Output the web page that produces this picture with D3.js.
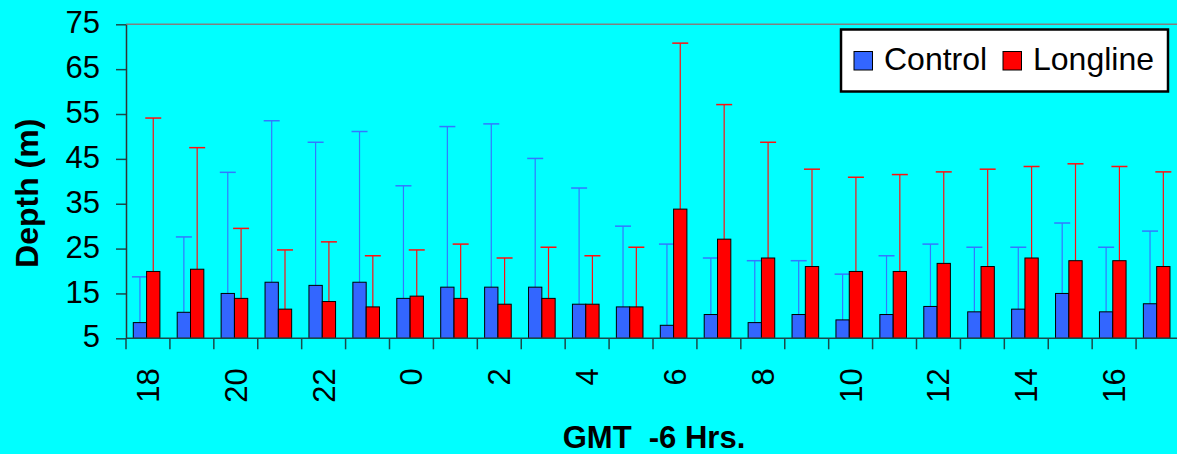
<!DOCTYPE html>
<html><head><meta charset="utf-8">
<script src="https://cdn.jsdelivr.net/npm/d3@7"></script>
<style>
html,body{margin:0;padding:0;background:#00FFFF;}
svg{display:block;font-family:Arial,"Liberation Sans",sans-serif;}
</style></head>
<body>
<script>
const categories = ["18","19","20","21","22","23","0","1","2","3","4","5","6","7","8","9","10","11","12","13","14","15","16","17"];
const controlMean = [8.5,10.8,15.0,17.5,16.8,17.5,13.9,16.4,16.4,16.4,12.6,12.0,7.9,10.3,8.5,10.3,9.1,10.3,12.1,10.9,11.5,15.0,10.9,12.7];
const controlUpper = [18.7,27.6,42.0,53.5,48.7,51.1,39.0,52.2,52.8,45.1,38.5,30.0,26.0,22.9,22.3,22.3,19.3,23.4,26.0,25.3,25.3,30.7,25.3,28.9];
const longlineMean = [19.9,20.4,13.9,11.5,13.2,12.0,14.4,13.9,12.6,13.9,12.6,12.0,33.8,27.1,22.9,21.0,19.9,19.9,21.7,21.0,22.9,22.3,22.3,21.0];
const longlineUpper = [54.1,47.5,29.5,24.7,26.5,23.4,24.7,26.0,22.9,25.3,23.4,25.3,70.8,57.1,48.7,42.7,40.9,41.5,42.1,42.7,43.3,43.9,43.3,42.1];
const seriesNames = ["Control","Longline"];
const yTicks = [5,15,25,35,45,55,65,75];
const xLabelCats = ["18","20","22","0","2","4","6","8","10","12","14","16"];

(function(){
const W = 1177, H = 454;
const colors = {Control:"#3366FF", Longline:"#FF0000"};
const errColors = {Control:"#3377FF", Longline:"#FF1010"};

const svg = d3.select("body").append("svg").attr("width",W).attr("height",H);
svg.append("rect").attr("width",W).attr("height",H).attr("fill","#00FFFF");

const pLeft = 126, pRight = 1180, pTop = 24.3, pBottom = 338.3;
const x0 = d3.scaleBand().domain(categories).range([pLeft,pRight]).paddingInner(0).paddingOuter(0);
const step = x0.step();
const barW = step*0.303;
const groupOff = step*0.166;
const x1 = d3.scaleBand().domain(seriesNames).range([groupOff, groupOff+2*barW]);
const y = d3.scaleLinear().domain([5,75]).range([pBottom,pTop]);

svg.append("line").attr("x1",pLeft).attr("x2",W).attr("y1",y(75)).attr("y2",y(75))
  .attr("stroke","#808080").attr("stroke-width",1.5);

const data = categories.map((c,i)=>({cat:c, vals:[
  {s:"Control", m:controlMean[i], u:controlUpper[i]},
  {s:"Longline", m:longlineMean[i], u:longlineUpper[i]}]}));

const g = svg.append("g");
const grp = g.selectAll("g.cat").data(data).join("g").attr("transform",d=>`translate(${x0(d.cat)},0)`);

grp.selectAll("line.err").data(d=>d.vals).join("line").attr("class","err")
  .attr("x1",d=>x1(d.s)+barW/2).attr("x2",d=>x1(d.s)+barW/2)
  .attr("y1",d=>y(d.m)).attr("y2",d=>y(d.u))
  .attr("stroke",d=>errColors[d.s]).attr("stroke-width",1.2);
grp.selectAll("line.cap").data(d=>d.vals).join("line").attr("class","cap")
  .attr("x1",d=>x1(d.s)+barW/2-8).attr("x2",d=>x1(d.s)+barW/2+8)
  .attr("y1",d=>y(d.u)).attr("y2",d=>y(d.u))
  .attr("stroke",d=>errColors[d.s]).attr("stroke-width",1.5);

grp.selectAll("rect.bar").data(d=>d.vals).join("rect").attr("class","bar")
  .attr("x",d=>x1(d.s)).attr("width",barW)
  .attr("y",d=>y(d.m)).attr("height",d=>y(5)-y(d.m))
  .attr("fill",d=>colors[d.s]).attr("stroke","#000").attr("stroke-width",1);

const yAxis = d3.axisLeft(y).tickValues(yTicks).tickSize(10).tickPadding(16).tickSizeOuter(0);
const ya = svg.append("g").attr("transform",`translate(${pLeft},0)`).call(yAxis);
ya.select(".domain").attr("stroke","#333").attr("stroke-width",1.5);
ya.selectAll(".tick line").attr("stroke","#1a4a4a").attr("stroke-width",1.5);
ya.selectAll(".tick text").attr("font-size",31).attr("fill","#000").attr("dy","0.28em")
  .attr("font-family","Arial, 'Liberation Sans', sans-serif");

svg.append("line").attr("x1",pLeft).attr("x2",W).attr("y1",pBottom).attr("y2",pBottom)
  .attr("stroke","#1a4a4a").attr("stroke-width",1.5);
svg.selectAll("line.xt").data(categories).join("line").attr("class","xt")
  .attr("x1",d=>x0(d)).attr("x2",d=>x0(d)).attr("y1",pBottom).attr("y2",pBottom+11)
  .attr("stroke","#1a4a4a").attr("stroke-width",1.5);

svg.selectAll("text.xl").data(xLabelCats).join("text").attr("class","xl")
  .attr("transform",d=>`translate(${x0(d)+step/2+11},${pBottom+30}) rotate(-90)`)
  .attr("text-anchor","end").attr("font-size",31).attr("fill","#000").text(d=>d);

svg.append("text").attr("transform",`translate(38,${(pTop+pBottom)/2+12}) rotate(-90)`)
  .attr("text-anchor","middle").attr("font-size",32).attr("font-weight","bold").text("Depth (m)");
svg.append("text").attr("x",654).attr("y",448).attr("text-anchor","middle")
  .attr("font-size",31).attr("font-weight","bold").style("white-space","pre").text("GMT  -6 Hrs.");

const lg = svg.append("g");
lg.append("rect").attr("x",841).attr("y",29.5).attr("width",327).attr("height",62)
  .attr("fill","#fff").attr("stroke","#000").attr("stroke-width",2.5);
const items = [{s:"Control", x:854},{s:"Longline", x:1003}];
lg.selectAll("rect.sw").data(items).join("rect").attr("class","sw")
  .attr("x",d=>d.x).attr("y",51.5).attr("width",18.5).attr("height",18.5)
  .attr("fill",d=>colors[d.s]).attr("stroke","#000").attr("stroke-width",1);
lg.selectAll("text.lt").data(items).join("text").attr("class","lt")
  .attr("x",d=>d.x+30).attr("y",70).attr("font-size",32).attr("fill","#000").text(d=>d.s);
})();
</script>
</body></html>
